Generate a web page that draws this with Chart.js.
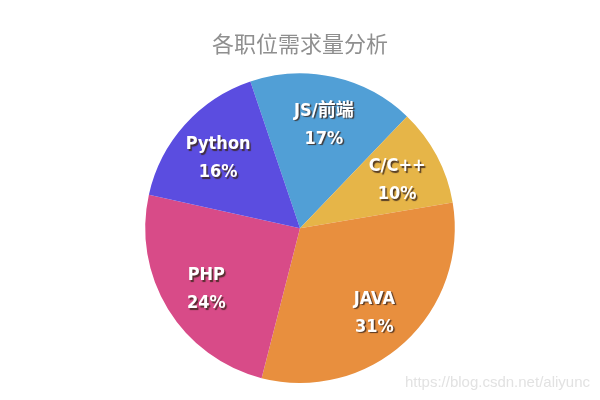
<!DOCTYPE html>
<html>
<head>
<meta charset="utf-8">
<script src="https://cdn.jsdelivr.net/npm/chart.js@4"></script>
<style>
  html, body { margin: 0; padding: 0; background: #fff; }
  #wrap { position: relative; width: 600px; height: 400px; }
  #mark {
    position: absolute; right: 10px; top: 373px;
    font: 15px "Liberation Sans", Arial, sans-serif; color: #e2e2e2;
  }
</style>
</head>
<body>
<div id="wrap">
  <canvas id="pieChart" width="600" height="400"></canvas>
  <div id="mark">https://blog.csdn.net/aliyunc</div>
</div>
<script>
const titleText = '各职位需求量分析';
const labels = ['JS/前端', 'C/C++', 'JAVA', 'PHP', 'Python'];
const values = [17, 10, 31, 24, 16];
const colors = ['#519fd6', '#e6b548', '#e88f3e', '#d84b88', '#5b4de0'];

// draw name + percent inside each slice
const sliceLabels = {
  id: 'sliceLabels',
  afterDatasetsDraw(chart) {
    const ctx = chart.ctx;
    const arcs = chart.getDatasetMeta(0).data;
    ctx.save();
    ctx.textAlign = 'center';
    ctx.textBaseline = 'middle';
    ctx.font = 'bold 18px "DejaVu Sans Condensed", "Noto Sans CJK SC", sans-serif';
    arcs.forEach((arc, i) => {
      const p = arc.getProps(['x', 'y', 'startAngle', 'endAngle', 'outerRadius'], true);
      const mid = (p.startAngle + p.endAngle) / 2;
      const r = p.outerRadius * 0.71;
      const x = p.x + Math.cos(mid) * r;
      const y = p.y + Math.sin(mid) * r + 4;
      ctx.shadowColor = 'rgba(60,40,30,0.85)';
      ctx.shadowOffsetX = 1.5;
      ctx.shadowOffsetY = 1.5;
      ctx.shadowBlur = 1;
      ctx.fillStyle = '#fff';
      ctx.fillText(labels[i], x, y - 14);
      ctx.fillText(values[i] + '%', x, y + 14);
    });
    ctx.restore();
  }
};

const ctx = document.getElementById('pieChart').getContext('2d');
const myChart = new Chart(ctx, {
  type: 'pie',
  data: {
    labels: labels,
    datasets: [{
      data: values,
      backgroundColor: colors,
      borderWidth: 0
    }]
  },
  options: {
    responsive: false,
    animation: false,
    rotation: -18.7,
    layout: { padding: { top: 0, bottom: 17 } },
    plugins: {
      legend: { display: false },
      tooltip: { enabled: false },
      title: {
        display: true,
        text: titleText,
        color: '#8f8f8f',
        font: { size: 22, weight: 'normal', family: '"Noto Sans CJK SC", sans-serif' },
        padding: { top: 30, bottom: 17 }
      }
    }
  },
  plugins: [sliceLabels]
});
</script>
</body>
</html>
